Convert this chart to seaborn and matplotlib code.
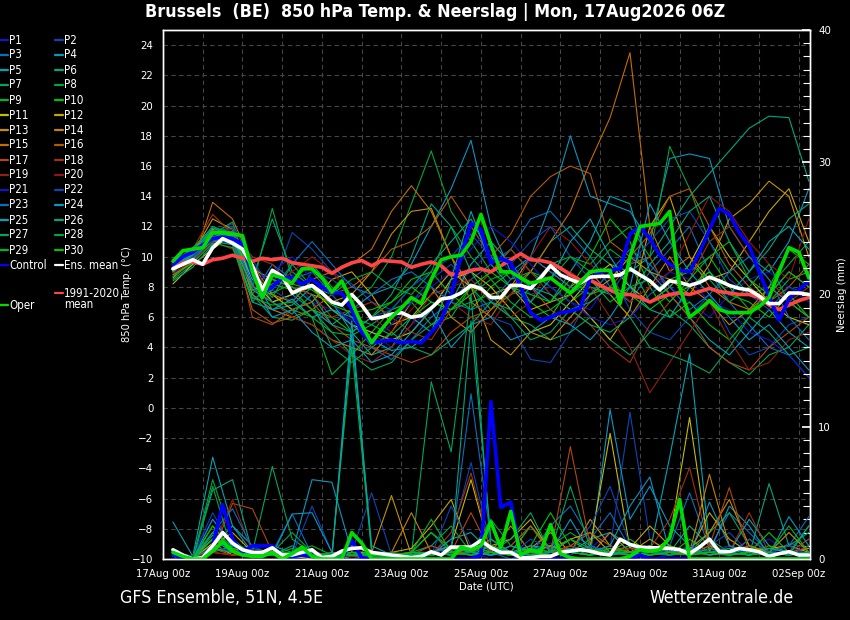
import numpy as np
import pandas as pd
import matplotlib
matplotlib.use("Agg")
import matplotlib.pyplot as plt
import seaborn as sns
from matplotlib.lines import Line2D
from matplotlib.ticker import MultipleLocator, FixedLocator

# ---------------- data ----------------
tick_days = [0, 2, 4, 6, 8, 10, 12, 14, 16]
tick_labels = ["17Aug 00z", "19Aug 00z", "21Aug 00z", "23Aug 00z", "25Aug 00z",
               "27Aug 00z", "29Aug 00z", "31Aug 00z", "02Sep 00z"]

main_days = np.arange(0.25, 16.26, 0.25)     # 6-hourly steps (days since 17Aug 00z)
member_days = np.arange(0.25, 16.26, 0.5)    # 12-hourly steps

control_t = [9.5, 10.0, 10.3, 10.8, 11.2, 11.3, 11.2, 10.8, 8.8, 7.6, 8.0, 8.6, 8.6, 8.2, 8.5, 8.0,
             7.6, 7.6, 6.5, 5.0, 4.3, 4.4, 4.5, 4.3, 4.4, 4.3, 5.0, 5.8, 7.5, 10.0, 12.2, 11.8,
             9.6, 9.9, 9.6, 8.0, 6.3, 5.8, 6.0, 6.3, 6.4, 6.6, 8.6, 9.0, 9.1, 9.2, 11.5, 12.0,
             11.2, 10.1, 9.5, 9.1, 9.0, 10.3, 11.8, 13.2, 12.8, 11.6, 10.7, 9.0, 7.4, 5.8, 7.2, 7.8, 8.4]
oper_t = [9.7, 10.4, 10.5, 10.6, 11.6, 11.6, 11.5, 11.4, 9.0, 7.3, 8.8, 8.6, 8.25, 9.2, 9.2, 8.6,
          7.65, 8.4, 7.0, 5.5, 4.3, 5.2, 6.0, 6.6, 7.3, 6.9, 8.5, 9.8, 10.0, 10.1, 11.0, 12.8,
          10.8, 9.0, 9.0, 8.6, 8.25, 8.4, 8.6, 8.1, 7.6, 8.3, 9.0, 9.1, 9.1, 6.9, 10.0, 12.0,
          12.1, 12.2, 13.0, 8.0, 6.0, 6.5, 7.1, 6.5, 6.3, 6.3, 6.3, 6.7, 7.3, 9.0, 10.6, 10.3, 8.6]
mean_t = [9.2, 9.5, 9.8, 9.5, 10.6, 11.2, 10.9, 10.5, 9.4, 7.8, 9.1, 8.7, 7.6, 7.9, 8.1, 7.6,
          7.0, 6.8, 7.5, 6.8, 5.9, 6.0, 6.2, 6.3, 6.0, 6.1, 6.6, 7.2, 7.3, 7.6, 8.1, 7.9,
          7.3, 7.3, 8.1, 8.1, 7.9, 8.6, 9.4, 8.8, 8.5, 8.25, 8.65, 8.7, 8.7, 8.8, 9.2, 8.8,
          8.4, 7.8, 8.4, 8.3, 8.1, 8.3, 8.65, 8.4, 8.1, 7.9, 7.8, 7.4, 6.9, 6.9, 7.6, 7.6, 7.5]
clim_t = [9.2, 9.6, 9.65, 9.5, 9.8, 9.9, 10.1, 9.9, 9.7, 9.9, 9.8, 9.9, 9.6, 9.5, 9.4, 9.3,
          8.9, 9.3, 9.6, 9.75, 9.4, 9.75, 9.7, 9.65, 9.3, 9.5, 9.65, 9.4, 8.8, 8.9, 9.1, 9.2,
          9.0, 9.4, 9.8, 10.2, 9.8, 9.75, 9.6, 9.25, 8.8, 8.45, 8.45, 8.1, 7.8, 7.5, 7.5, 7.3,
          7.0, 7.3, 7.5, 7.6, 7.5, 7.7, 7.9, 7.7, 7.6, 7.5, 7.5, 7.3, 6.8, 6.5, 6.8, 7.1, 7.3]

control_p = [0.3, 0.1, 0.0, 0.0, 1.0, 4.1, 1.5, 0.5, 1.0, 1.0, 1.0, 0.2, 0.2, 0.3, 0.2, 0.0,
             0.0, 0.0, 1.4, 0.1, 0.0, 0.0, 0.0, 0.0, 0.0, 0.0, 0.0, 0.0, 0.0, 0.0, 0.0, 0.3,
             11.9, 3.9, 4.3, 0.3, 0.0, 0.0, 0.0, 0.0, 0.0, 0.0, 0.0, 0.0, 0.0, 0.0, 0.0, 0.3,
             0.0, 0.0, 0.0, 0.0, 0.0, 0.0, 0.0, 0.0, 0.0, 0.0, 0.0, 0.0, 0.0, 0.0, 0.0, 0.0, 0.0]
oper_p = [0.5, 0.2, 0.0, 0.0, 0.6, 1.3, 0.6, 0.3, 0.2, 0.2, 0.5, 0.0, 0.4, 0.9, 0.2, 0.0,
          0.0, 0.0, 2.0, 1.2, 0.0, 0.0, 0.0, 0.0, 0.0, 0.0, 0.0, 0.0, 0.0, 0.9, 0.7, 1.0,
          2.8, 0.85, 3.6, 0.3, 0.7, 0.5, 2.6, 0.4, 0.1, 0.0, 0.0, 0.0, 0.0, 0.0, 0.2, 0.7,
          0.6, 0.7, 1.6, 4.5, 0.0, 0.0, 0.0, 0.0, 0.0, 0.0, 0.0, 0.0, 0.0, 0.0, 0.0, 0.0, 0.0]
mean_p = [0.7, 0.3, 0.0, 0.1, 1.0, 2.0, 1.2, 0.7, 0.5, 0.5, 0.85, 0.3, 0.3, 0.5, 0.7, 0.1,
          0.2, 0.6, 0.8, 0.85, 0.5, 0.4, 0.3, 0.2, 0.1, 0.2, 0.55, 0.3, 0.9, 0.9, 0.9, 1.4,
          0.85, 0.5, 0.5, 0.1, 0.1, 0.2, 0.2, 0.5, 0.6, 0.7, 0.6, 0.4, 0.3, 1.5, 1.1, 0.9,
          0.85, 0.85, 0.8, 0.7, 0.4, 0.9, 1.5, 0.55, 0.55, 0.8, 0.7, 0.55, 0.2, 0.4, 0.55, 0.3, 0.3]

members_t = {
    "P1": [9.2, 10.0, 11.2, 11.0, 8.0, 7.5, 8.8, 7.0, 6.5, 5.8, 5.0, 4.0, 5.5, 6.5, 8.0, 9.0, 10.5, 9.0, 7.5, 8.0, 7.0, 6.5, 8.5, 10.0, 9.0, 8.0, 7.0, 6.0, 7.5, 8.5, 9.0, 8.0, 7.0],
    "P2": [9.0, 10.2, 11.5, 12.2, 9.5, 8.0, 11.6, 10.5, 9.0, 8.2, 7.0, 6.5, 7.0, 8.5, 9.5, 8.0, 6.0, 5.5, 3.2, 3.0, 5.0, 7.5, 9.0, 6.5, 5.0, 4.5, 6.0, 7.5, 5.0, 3.5, 4.0, 5.5, 6.0],
    "P3": [8.8, 9.8, 11.0, 11.2, 7.5, 9.5, 8.5, 9.0, 7.5, 6.0, 4.0, 3.2, 4.5, 6.0, 7.0, 8.5, 9.5, 10.5, 12.5, 13.0, 11.5, 10.0, 8.0, 7.0, 9.0, 10.5, 12.0, 9.0, 7.0, 5.5, 4.0, 3.5, 2.0],
    "P4": [9.5, 10.3, 11.8, 11.5, 9.0, 7.0, 7.5, 6.5, 5.5, 6.5, 7.5, 8.0, 9.5, 12.0, 14.5, 17.7, 12.0, 9.0, 10.0, 13.5, 18.0, 14.0, 13.5, 13.0, 11.0, 16.5, 16.8, 16.5, 12.0, 10.0, 9.0, 11.0, 14.5],
    "P5": [9.3, 10.0, 11.0, 10.8, 7.0, 6.5, 6.8, 8.0, 7.0, 5.0, 3.5, 4.0, 6.0, 5.0, 7.0, 9.5, 11.0, 9.5, 8.0, 7.0, 9.0, 11.0, 14.0, 13.5, 9.0, 7.5, 6.0, 4.5, 3.5, 5.0, 6.5, 5.0, 4.0],
    "P6": [9.0, 10.5, 12.0, 11.5, 8.5, 12.5, 9.0, 8.0, 6.5, 6.0, 5.5, 6.5, 8.0, 9.5, 11.0, 12.5, 10.0, 8.5, 9.0, 11.0, 12.0, 10.5, 9.5, 9.0, 10.0, 12.0, 14.0, 15.5, 17.0, 18.5, 19.3, 19.2, 15.0],
    "P7": [8.5, 9.5, 11.5, 12.0, 7.5, 6.0, 5.8, 6.5, 5.0, 3.5, 2.5, 3.0, 4.5, 5.5, 6.5, 7.0, 7.5, 6.0, 5.5, 4.5, 5.0, 6.0, 4.5, 3.5, 5.0, 6.5, 5.5, 4.0, 3.0, 2.2, 3.5, 4.0, 5.5],
    "P8": [9.0, 10.0, 11.5, 12.3, 8.0, 13.2, 8.5, 9.5, 8.0, 7.0, 8.0, 10.0, 13.5, 17.0, 13.0, 11.0, 9.0, 10.5, 9.0, 8.5, 10.0, 9.5, 11.0, 12.0, 10.0, 17.3, 14.5, 11.0, 9.0, 7.5, 8.0, 9.5, 11.0],
    "P9": [9.4, 10.4, 11.2, 11.0, 9.0, 7.5, 6.5, 6.0, 2.2, 3.5, 5.0, 6.5, 7.0, 5.5, 6.0, 8.0, 6.5, 7.5, 9.0, 8.0, 7.0, 8.0, 7.5, 6.0, 7.5, 8.5, 9.0, 10.0, 8.0, 6.5, 7.0, 8.5, 9.0],
    "P10": [9.6, 10.6, 11.6, 11.2, 7.8, 8.2, 7.8, 6.5, 6.0, 5.0, 6.0, 7.0, 8.5, 9.0, 7.5, 6.5, 8.0, 9.0, 7.0, 6.0, 8.0, 10.0, 12.5, 11.0, 8.0, 6.0, 7.0, 5.5, 4.5, 6.0, 8.0, 10.5, 9.5],
    "P11": [8.2, 9.5, 10.5, 11.5, 8.5, 7.0, 7.5, 8.0, 6.5, 5.5, 5.0, 4.5, 5.0, 6.5, 8.5, 9.0, 8.0, 6.5, 5.0, 5.5, 7.0, 8.5, 9.5, 8.0, 7.0, 8.0, 9.5, 12.0, 10.0, 8.5, 7.0, 6.0, 5.5],
    "P12": [8.6, 9.8, 11.8, 11.0, 8.0, 7.5, 6.5, 7.0, 8.5, 9.0, 7.5, 5.5, 6.0, 7.5, 9.0, 8.0, 7.5, 8.0, 6.5, 7.0, 7.5, 6.0, 4.5, 6.5, 12.0, 14.0, 10.0, 8.5, 9.0, 11.0, 13.0, 14.5, 11.0],
    "P13": [9.0, 10.2, 12.5, 11.8, 9.2, 8.5, 8.0, 7.5, 7.0, 7.5, 9.0, 11.5, 13.0, 13.2, 10.0, 8.0, 4.5, 3.5, 5.0, 4.5, 6.0, 7.5, 8.5, 10.0, 9.0, 8.5, 7.5, 9.5, 12.5, 13.5, 15.0, 14.0, 10.0],
    "P14": [9.2, 10.0, 11.0, 11.5, 7.5, 6.5, 6.0, 5.5, 4.5, 4.0, 3.5, 5.0, 7.0, 8.0, 6.0, 5.0, 6.5, 8.0, 10.0, 9.0, 8.0, 9.0, 7.5, 6.0, 8.0, 10.0, 8.0, 7.0, 5.5, 6.5, 8.0, 7.0, 6.0],
    "P15": [8.8, 9.6, 13.6, 12.5, 9.5, 7.5, 7.0, 8.5, 9.0, 9.5, 10.5, 13.0, 14.7, 13.0, 10.0, 7.0, 6.0, 8.0, 9.0, 11.0, 13.0, 16.3, 19.2, 23.5, 12.0, 9.0, 10.0, 8.0, 7.0, 6.5, 7.5, 9.0, 8.0],
    "P16": [9.0, 10.3, 11.4, 10.8, 6.5, 5.6, 6.0, 6.5, 7.5, 8.0, 9.0, 10.5, 11.0, 12.0, 14.0, 12.0, 10.0, 11.5, 14.0, 15.3, 16.0, 15.5, 11.0, 10.0, 11.5, 14.0, 14.5, 12.0, 9.5, 8.0, 7.0, 8.0, 9.5],
    "P17": [9.1, 9.9, 11.3, 11.6, 6.0, 5.5, 6.5, 7.0, 5.5, 4.5, 4.0, 3.5, 3.0, 3.5, 5.0, 6.0, 6.5, 7.5, 8.0, 6.5, 5.5, 7.0, 8.0, 9.5, 10.0, 7.5, 6.0, 4.0, 3.0, 2.5, 4.0, 5.0, 6.0],
    "P18": [9.3, 10.5, 12.8, 11.5, 10.0, 9.5, 8.0, 7.5, 6.0, 6.5, 7.0, 6.0, 5.0, 4.5, 6.5, 7.5, 9.0, 10.5, 9.0, 7.5, 6.5, 5.5, 4.0, 3.0, 5.5, 7.0, 8.5, 11.0, 12.0, 10.0, 8.5, 7.0, 8.0],
    "P19": [8.9, 9.7, 11.0, 10.5, 8.0, 7.0, 6.0, 5.5, 4.5, 3.5, 3.0, 4.0, 5.5, 7.5, 8.0, 8.5, 7.0, 6.0, 7.0, 9.5, 9.0, 8.0, 6.0, 4.0, 1.0, 3.0, 5.0, 7.0, 4.5, 2.5, 3.0, 4.5, 5.0],
    "P20": [9.2, 10.0, 11.7, 11.8, 8.8, 8.0, 9.0, 10.0, 9.0, 7.5, 6.0, 5.0, 6.5, 8.0, 7.0, 6.0, 5.5, 7.5, 10.0, 12.0, 11.0, 9.5, 8.5, 7.0, 8.0, 9.0, 11.5, 14.0, 13.0, 11.0, 9.5, 8.5, 12.5],
    "P21": [9.5, 10.4, 11.5, 11.0, 8.3, 9.0, 10.0, 8.5, 7.0, 5.5, 4.5, 5.5, 7.0, 8.0, 9.0, 10.5, 12.0, 11.0, 9.5, 8.0, 7.0, 6.0, 5.5, 6.0, 7.5, 9.0, 8.5, 7.0, 6.5, 5.0, 4.5, 3.5, 2.0],
    "P22": [9.0, 10.0, 11.2, 12.0, 9.8, 7.8, 7.0, 9.0, 8.5, 7.5, 6.0, 6.5, 8.0, 9.0, 10.0, 11.5, 10.0, 9.5, 11.0, 12.0, 10.0, 8.5, 7.5, 9.5, 11.0, 12.5, 13.0, 11.0, 8.5, 7.5, 6.5, 8.0, 7.5],
    "P23": [9.1, 9.9, 11.1, 10.9, 7.2, 7.8, 9.5, 11.0, 9.5, 8.0, 7.5, 8.5, 9.0, 8.0, 7.0, 6.5, 7.0, 8.5, 10.0, 9.0, 8.0, 7.5, 9.0, 10.5, 9.5, 8.0, 6.5, 7.5, 9.0, 10.0, 8.5, 6.0, 4.5],
    "P24": [9.3, 10.3, 11.9, 11.4, 8.2, 6.0, 6.5, 5.0, 4.0, 4.5, 3.0, 3.5, 5.0, 6.5, 4.0, 5.5, 6.0, 4.5, 5.0, 6.0, 5.5, 4.5, 6.0, 8.0, 13.5, 11.0, 9.0, 7.5, 6.0, 4.5, 5.5, 4.0, 2.5],
    "P25": [9.2, 10.2, 11.3, 11.7, 8.6, 6.5, 7.2, 6.0, 6.5, 5.5, 4.5, 3.8, 4.0, 5.0, 8.5, 13.0, 9.5, 8.0, 7.0, 8.5, 11.0, 12.5, 10.0, 8.0, 6.5, 6.0, 8.0, 9.0, 7.5, 9.0, 11.0, 12.0, 10.5],
    "P26": [8.4, 9.3, 10.8, 11.3, 7.8, 7.0, 6.2, 7.5, 5.5, 5.0, 6.0, 7.5, 10.0, 13.5, 12.0, 9.0, 7.0, 6.5, 8.0, 7.5, 6.5, 7.0, 8.0, 7.5, 9.5, 11.0, 13.0, 14.0, 11.0, 9.0, 10.5, 12.5, 13.5],
    "P27": [9.0, 10.1, 11.5, 11.2, 7.0, 8.5, 8.0, 7.0, 4.0, 3.0, 4.0, 5.0, 4.0, 3.5, 4.5, 5.5, 7.0, 6.0, 4.5, 5.0, 6.5, 5.5, 5.0, 6.0, 4.0, 3.5, 3.0, 2.3, 4.0, 6.0, 5.0, 3.5, 4.0],
    "P28": [9.4, 10.6, 11.9, 11.6, 8.7, 7.3, 9.5, 8.0, 7.5, 8.5, 9.0, 8.0, 7.5, 9.0, 12.0, 10.0, 8.5, 9.0, 8.0, 9.5, 10.0, 9.0, 10.5, 9.5, 7.0, 8.0, 9.5, 8.5, 7.0, 8.0, 9.5, 7.0, 6.0],
    "P29": [8.7, 9.6, 10.9, 10.6, 7.3, 6.8, 7.0, 6.0, 5.0, 4.8, 5.5, 4.8, 6.0, 7.0, 6.5, 7.5, 8.5, 7.0, 6.0, 6.5, 7.5, 8.5, 7.0, 8.0, 8.5, 7.0, 8.5, 10.0, 11.0, 8.5, 7.5, 9.0, 8.0],
    "P30": [9.5, 10.3, 11.6, 11.3, 8.9, 7.6, 8.2, 7.8, 6.8, 6.3, 6.5, 7.0, 8.0, 7.0, 6.5, 8.0, 9.0, 8.0, 7.5, 7.0, 8.5, 7.5, 8.0, 7.5, 6.5, 7.5, 8.0, 9.0, 7.5, 7.0, 6.0, 7.5, 6.0],
}

members_p = {
    "P1": [0.3, 0.0, 1.5, 0.5, 0.2, 0.5, 0.3, 0.0, 0.0, 0.2, 0.0, 0.0, 0.5, 1.0, 0.3, 0.5, 0.0, 0.0, 0.5, 1.2, 0.3, 0.8, 2.0, 0.5, 0.0, 0.3, 1.0, 0.5, 0.2, 0.8, 1.5, 0.5, 0.3],
    "P2": [0.5, 0.2, 3.5, 0.8, 1.0, 0.3, 0.0, 0.2, 0.0, 0.5, 5.0, 0.3, 0.0, 0.5, 1.5, 7.3, 1.0, 0.3, 0.0, 0.5, 1.0, 0.5, 0.8, 11.1, 1.5, 0.5, 0.3, 1.0, 2.0, 0.5, 0.3, 1.2, 0.8],
    "P3": [0.2, 0.0, 2.0, 1.0, 0.3, 0.5, 3.4, 0.3, 0.2, 0.0, 0.3, 0.0, 0.2, 0.5, 0.3, 1.0, 0.5, 0.0, 0.3, 2.5, 4.0, 1.5, 3.5, 0.8, 0.5, 1.0, 5.0, 0.8, 3.5, 2.0, 0.5, 1.0, 3.2],
    "P4": [0.4, 0.1, 1.0, 2.5, 0.5, 0.3, 0.5, 6.0, 5.8, 0.5, 0.2, 0.0, 0.3, 0.5, 0.8, 0.3, 0.5, 0.5, 0.3, 0.5, 0.5, 0.3, 11.3, 3.0, 5.5, 2.5, 1.0, 0.5, 4.0, 2.5, 0.3, 0.5, 0.8],
    "P5": [2.8, 0.2, 7.7, 2.5, 1.0, 1.0, 0.5, 0.3, 0.0, 18.0, 0.5, 0.2, 0.0, 0.3, 1.5, 2.0, 0.5, 0.3, 1.0, 0.8, 0.5, 1.5, 2.0, 1.0, 0.5, 7.7, 15.5, 1.0, 0.5, 3.0, 1.0, 0.5, 0.3],
    "P6": [0.5, 0.0, 5.2, 6.0, 0.5, 0.3, 1.0, 0.2, 0.0, 0.5, 0.3, 0.2, 0.5, 2.0, 0.5, 0.3, 1.0, 0.5, 2.5, 0.5, 1.5, 0.5, 1.0, 0.5, 0.3, 0.5, 2.5, 1.0, 0.5, 0.3, 5.7, 1.0, 2.0],
    "P7": [0.3, 0.0, 0.5, 1.0, 0.5, 7.0, 1.5, 0.5, 0.3, 1.0, 0.5, 0.0, 0.3, 13.4, 8.1, 20.0, 1.0, 0.5, 0.3, 0.5, 0.8, 0.3, 0.5, 1.0, 0.5, 0.3, 0.5, 2.0, 3.5, 1.0, 0.5, 0.3, 0.5],
    "P8": [0.2, 0.0, 6.0, 1.5, 0.3, 0.5, 2.0, 0.5, 0.2, 0.3, 0.5, 0.3, 0.5, 1.0, 2.5, 0.5, 3.0, 1.0, 0.5, 1.0, 2.0, 1.0, 0.5, 0.5, 1.0, 0.3, 0.5, 1.5, 0.5, 1.0, 0.3, 0.5, 2.5],
    "P9": [0.5, 0.1, 2.5, 0.8, 0.3, 0.5, 0.5, 1.0, 0.3, 16.0, 0.5, 0.3, 0.2, 0.3, 0.5, 1.0, 0.3, 0.5, 2.5, 0.8, 1.5, 0.5, 0.8, 0.3, 0.5, 1.0, 0.5, 0.3, 0.5, 0.8, 0.5, 0.3, 1.0],
    "P10": [0.3, 0.0, 1.8, 0.5, 0.2, 0.3, 0.8, 0.3, 0.0, 0.5, 0.3, 0.2, 0.5, 2.0, 0.8, 0.5, 1.5, 0.5, 1.0, 3.5, 1.0, 0.5, 0.5, 1.5, 0.5, 0.3, 1.5, 0.5, 1.0, 0.5, 1.0, 0.5, 0.3],
    "P11": [0.2, 0.0, 1.2, 0.3, 0.5, 0.3, 0.2, 0.0, 0.3, 0.5, 0.5, 0.3, 0.0, 0.5, 1.0, 6.0, 0.5, 0.3, 0.5, 1.0, 0.5, 1.0, 9.5, 0.8, 0.5, 1.5, 10.7, 0.5, 0.3, 1.5, 0.5, 0.3, 0.5],
    "P12": [0.3, 0.1, 1.0, 2.0, 0.5, 0.5, 0.3, 0.5, 0.0, 0.2, 0.3, 0.5, 0.8, 2.5, 4.5, 0.5, 1.0, 1.5, 3.0, 0.5, 1.5, 2.0, 0.5, 0.8, 2.5, 1.0, 0.5, 3.5, 1.5, 0.5, 0.8, 1.0, 0.5],
    "P13": [0.2, 0.0, 0.8, 0.5, 0.3, 0.3, 0.5, 0.3, 0.2, 0.5, 0.5, 4.8, 0.3, 0.5, 1.0, 0.5, 0.3, 0.5, 0.8, 2.0, 0.5, 3.0, 1.0, 0.5, 1.5, 0.5, 0.8, 2.0, 4.5, 1.0, 0.5, 2.0, 0.5],
    "P14": [0.5, 0.2, 1.5, 0.8, 0.5, 0.3, 0.5, 0.3, 0.3, 0.5, 0.3, 0.5, 3.5, 0.5, 0.3, 1.0, 0.5, 2.5, 0.5, 1.0, 0.5, 0.3, 2.0, 0.5, 1.0, 0.5, 0.5, 6.4, 1.0, 0.5, 0.3, 0.5, 0.8],
    "P15": [0.3, 0.0, 0.5, 0.3, 0.2, 0.5, 0.3, 0.2, 0.3, 0.2, 0.5, 0.3, 0.5, 0.3, 0.5, 0.3, 0.5, 0.3, 0.5, 0.3, 1.0, 0.5, 0.3, 0.5, 0.3, 0.5, 0.3, 1.0, 0.5, 0.3, 0.5, 0.3, 0.5],
    "P16": [0.2, 0.1, 0.8, 0.3, 0.5, 0.3, 0.2, 0.5, 0.3, 1.0, 0.5, 0.3, 0.3, 1.0, 0.5, 0.5, 0.3, 1.0, 2.5, 0.5, 1.0, 2.0, 1.0, 0.5, 0.3, 0.5, 0.8, 0.3, 0.5, 1.0, 0.3, 0.5, 0.3],
    "P17": [0.4, 0.2, 0.5, 4.2, 3.8, 0.5, 0.3, 0.2, 0.5, 0.3, 0.2, 0.3, 0.5, 0.3, 0.5, 3.5, 0.5, 0.3, 0.5, 0.5, 8.5, 1.0, 0.5, 0.3, 1.0, 0.5, 0.3, 1.0, 5.4, 0.5, 0.3, 0.5, 1.5],
    "P18": [0.3, 0.0, 1.0, 0.5, 0.3, 0.3, 0.5, 0.2, 0.3, 0.5, 0.3, 0.2, 0.5, 0.3, 2.0, 6.5, 0.5, 0.3, 0.5, 0.3, 1.0, 0.5, 0.3, 0.5, 0.8, 3.0, 6.9, 0.8, 0.5, 3.5, 0.5, 0.3, 1.0],
    "P19": [0.2, 0.0, 0.8, 4.5, 0.5, 0.3, 0.2, 0.5, 0.3, 0.2, 0.3, 0.5, 0.2, 0.3, 0.5, 0.3, 0.5, 0.3, 0.3, 0.5, 0.5, 0.3, 1.0, 0.3, 0.5, 0.3, 1.0, 0.5, 0.3, 0.5, 0.3, 0.5, 0.3],
    "P20": [0.3, 0.1, 0.5, 0.3, 0.2, 0.5, 0.3, 0.2, 0.3, 0.5, 0.2, 0.3, 0.5, 0.5, 0.3, 0.5, 0.3, 0.5, 0.3, 0.2, 0.5, 0.3, 0.5, 0.8, 0.3, 0.5, 0.3, 0.5, 0.3, 0.5, 0.3, 0.5, 0.3],
    "P21": [0.5, 0.2, 3.0, 1.0, 0.5, 0.3, 0.5, 0.2, 0.0, 0.3, 0.5, 0.3, 0.2, 0.5, 0.3, 0.5, 0.3, 0.5, 0.3, 0.5, 0.3, 1.0, 0.5, 0.3, 0.5, 0.5, 0.3, 0.5, 1.0, 0.3, 0.5, 0.3, 0.5],
    "P22": [0.3, 0.0, 1.0, 0.5, 0.3, 0.5, 0.3, 4.0, 0.5, 0.3, 0.5, 0.3, 0.5, 0.3, 4.0, 1.0, 0.5, 0.3, 1.5, 0.8, 0.5, 2.5, 5.5, 1.0, 0.5, 0.3, 1.0, 0.5, 0.3, 1.5, 0.5, 1.0, 0.3],
    "P23": [0.4, 0.1, 2.0, 3.8, 0.8, 0.5, 0.3, 0.5, 0.3, 0.5, 0.3, 0.2, 0.3, 0.5, 0.8, 12.5, 1.5, 0.5, 0.3, 0.5, 0.5, 1.0, 0.5, 0.3, 0.5, 0.5, 0.3, 0.5, 0.8, 0.5, 0.3, 0.5, 0.5],
    "P24": [0.3, 0.0, 3.0, 1.0, 0.3, 0.3, 3.4, 3.5, 0.5, 0.3, 0.5, 0.2, 0.3, 0.5, 1.0, 0.5, 0.3, 0.5, 1.0, 0.5, 3.0, 0.5, 1.0, 4.0, 6.2, 0.5, 0.3, 4.3, 1.0, 0.5, 0.3, 3.2, 1.0],
    "P25": [0.2, 0.0, 1.5, 0.5, 0.3, 0.5, 0.3, 0.2, 0.3, 17.0, 1.0, 0.3, 0.2, 0.5, 0.3, 0.5, 0.3, 1.0, 0.5, 0.3, 0.8, 0.5, 0.3, 0.5, 0.3, 0.5, 0.8, 0.3, 0.5, 0.3, 0.8, 0.5, 0.3],
    "P26": [0.3, 0.0, 2.0, 0.5, 0.5, 0.5, 0.3, 0.5, 0.2, 0.3, 0.3, 0.2, 0.5, 0.5, 0.3, 18.0, 1.5, 0.5, 0.3, 0.5, 0.5, 0.3, 0.5, 0.5, 1.0, 0.5, 0.3, 0.8, 0.5, 0.3, 0.5, 0.3, 2.5],
    "P27": [0.3, 0.1, 0.8, 0.5, 0.3, 0.3, 0.5, 0.3, 0.3, 0.5, 0.3, 0.2, 0.5, 0.3, 0.5, 0.3, 0.5, 1.5, 3.5, 0.5, 5.5, 0.8, 0.5, 1.0, 0.5, 0.3, 0.5, 0.5, 0.3, 0.5, 0.5, 0.3, 0.5],
    "P28": [0.2, 0.0, 5.5, 0.5, 0.3, 0.5, 0.3, 0.3, 0.2, 0.3, 0.3, 0.5, 0.3, 0.5, 0.3, 0.5, 1.0, 0.5, 0.3, 0.5, 0.5, 0.3, 0.5, 0.3, 0.5, 0.3, 0.5, 0.5, 0.3, 0.5, 0.3, 0.5, 0.3],
    "P29": [0.3, 0.0, 1.5, 0.8, 0.2, 0.5, 0.3, 0.2, 0.5, 0.3, 0.2, 0.3, 0.5, 3.0, 0.5, 0.3, 0.5, 0.3, 0.8, 0.5, 1.5, 0.8, 0.5, 0.3, 0.5, 1.0, 0.3, 0.5, 0.8, 0.3, 0.5, 2.5, 0.5],
    "P30": [0.4, 0.0, 2.5, 0.5, 0.3, 0.3, 0.5, 0.2, 0.3, 0.5, 0.3, 0.2, 0.5, 0.3, 0.5, 1.0, 0.5, 0.3, 0.5, 0.3, 0.5, 0.3, 0.8, 0.5, 0.3, 0.5, 0.3, 0.5, 0.3, 0.5, 2.0, 0.5, 0.3],
}

base_colors = ["#1414c8", "#0a46b4", "#0a6ebe", "#0a96c3", "#00a5b4", "#00a582", "#00a55f",
               "#00a541", "#00b428", "#00c300", "#c3be00", "#c8a500", "#c39100", "#c38200",
               "#c36e00", "#b45a00", "#b4460f", "#a0320f", "#91200f", "#961414"]
member_names = list(members_t.keys())
member_colors = {n: base_colors[i % 20] for i, n in enumerate(member_names)}

C_CONTROL = "#0000ff"
C_OPER = "#00dc00"
C_MEAN = "#ffffff"
C_CLIM = "#ff4646"

# ---------------- style ----------------
sns.set_theme(style="dark", rc={
    "figure.facecolor": "black", "axes.facecolor": "black", "savefig.facecolor": "black",
    "axes.edgecolor": "white", "text.color": "white", "axes.labelcolor": "white",
    "xtick.color": "white", "ytick.color": "white", "axes.grid": False,
})
plt.rcParams["font.family"] = ["DejaVu Sans"]
plt.rcParams["font.stretch"] = "condensed"

fig = plt.figure(figsize=(8.5, 6.2), dpi=100)
W, H = 850, 620
ax = fig.add_axes([163 / W, 61 / H, 647 / W, 529 / H])
ax2 = ax.twinx()

# long tables for the members
rows_t = [(d, v, n) for n in member_names for d, v in zip(member_days, members_t[n])]
rows_p = [(d, v, n) for n in member_names for d, v in zip(member_days, members_p[n])]
df_t = pd.DataFrame(rows_t, columns=["day", "temp", "member"])
df_p = pd.DataFrame(rows_p, columns=["day", "prec", "member"])

sns.lineplot(data=df_t, x="day", y="temp", hue="member", palette=member_colors,
             estimator=None, sort=False, linewidth=0.8, legend=False, ax=ax)
sns.lineplot(x=main_days, y=clim_t, color=C_CLIM, linewidth=2.6, ax=ax)
sns.lineplot(x=main_days, y=control_t, color=C_CONTROL, linewidth=2.6, ax=ax)
sns.lineplot(x=main_days, y=mean_t, color=C_MEAN, linewidth=2.6, ax=ax)
sns.lineplot(x=main_days, y=oper_t, color=C_OPER, linewidth=2.6, ax=ax)

sns.lineplot(data=df_p, x="day", y="prec", hue="member", palette=member_colors,
             estimator=None, sort=False, linewidth=0.8, legend=False, ax=ax2)
sns.lineplot(x=main_days, y=control_p, color=C_CONTROL, linewidth=2.6, ax=ax2)
sns.lineplot(x=main_days, y=mean_p, color=C_MEAN, linewidth=2.6, ax=ax2)
sns.lineplot(x=main_days, y=oper_p, color=C_OPER, linewidth=2.6, ax=ax2)

ax.set_xlim(0, 16.28)
ax.set_ylim(-10, 25)
ax2.set_ylim(0, 40)

ax.xaxis.set_major_locator(FixedLocator(tick_days))
ax.set_xticklabels(tick_labels, fontsize=8.2)
ax.xaxis.set_minor_locator(MultipleLocator(1))
ax.set_yticks(np.arange(-10, 25, 2))
ax.tick_params(axis="y", labelsize=8.2, length=0, pad=7, colors="white")
ax.tick_params(axis="x", which="major", labelsize=8.2, length=0, colors="white", pad=7)
ax.tick_params(axis="x", which="minor", length=0)
ax.grid(True, which="both", axis="x", color="#464646", linestyle=(0, (4, 3)), linewidth=0.8)
ax.grid(True, which="major", axis="y", color="#464646", linestyle=(0, (4, 3)), linewidth=0.8)
ax.set_axisbelow(True)

ax2.set_yticks([0, 10, 20, 30, 40])
ax2.yaxis.set_minor_locator(MultipleLocator(1))
ax2.tick_params(axis="y", which="major", labelsize=8.2, length=6, direction="in", colors="white", pad=6)
ax2.tick_params(axis="y", which="minor", length=5, direction="in", colors="white", width=0.8)
ax2.grid(False)

for a in (ax, ax2):
    for s in a.spines.values():
        s.set_color("white")
        s.set_linewidth(1.0)

ax.set_xlabel("Date (UTC)", fontsize=8, labelpad=2)
ax.set_ylabel("850 hPa Temp. (°C)", fontsize=8, labelpad=0)
ax2.set_ylabel("Neerslag (mm)", fontsize=8, labelpad=4)

fig.text(435 / W, 1 - 12 / H, "Brussels  (BE)  850 hPa Temp. & Neerslag | Mon, 17Aug2026 06Z",
         ha="center", va="center", fontsize=12.8, fontweight="bold", color="white")
fig.text(120 / W, 1 - 598 / H, "GFS Ensemble, 51N, 4.5E", ha="left", va="center",
         fontsize=12.8, color="white")
fig.text(794 / W, 1 - 598 / H, "Wetterzentrale.de", ha="right", va="center",
         fontsize=12.8, color="white")

# ---------------- manual legend on the left ----------------
def leg_entry(x, y, color, label):
    fig.add_artist(Line2D([x / W, (x + 8) / W], [1 - y / H, 1 - y / H], color=color,
                          linewidth=1.6, transform=fig.transFigure))
    fig.text((x + 9) / W, 1 - y / H, label, ha="left", va="center", fontsize=8.3,
             color="white", linespacing=0.9)

for i, n in enumerate(member_names):
    col, row = i % 2, i // 2
    leg_entry(0 if col == 0 else 55, 40 + 15 * row, member_colors[n], n)
leg_entry(0, 265, C_CONTROL, "Control")
leg_entry(55, 265, C_MEAN, "Ens. mean")
fig.add_artist(Line2D([55 / W, 63 / W], [1 - 293 / H, 1 - 293 / H], color=C_CLIM,
                      linewidth=1.6, transform=fig.transFigure))
fig.text(64 / W, 1 - 287 / H, "1991-2020\nmean", ha="left", va="top", fontsize=8.3,
         color="white", linespacing=0.85)
leg_entry(0, 305, C_OPER, "Oper")

fig.savefig("out.png", dpi=100, facecolor="black")
